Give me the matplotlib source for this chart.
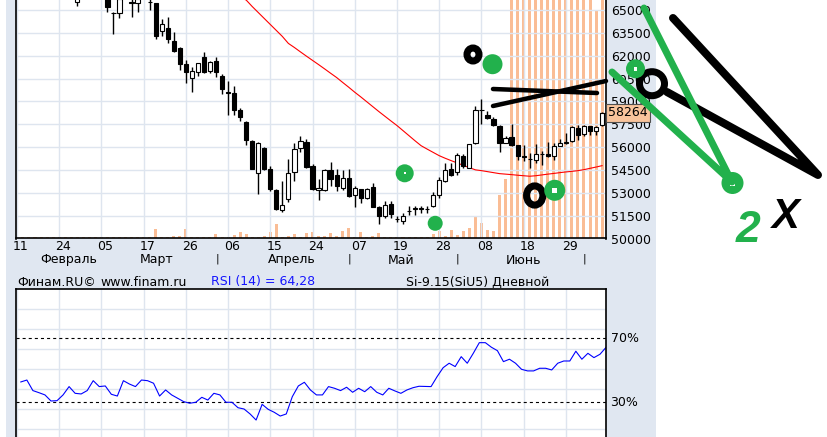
import numpy as np
import matplotlib
matplotlib.use('Agg')
import matplotlib.pyplot as plt
import matplotlib.transforms as mtrans
from matplotlib.patches import Rectangle, Ellipse

plt.rcParams['font.family'] = ['DejaVu Sans']
plt.rcParams['lines.scale_dashes'] = False

# Si-9.15 daily candles, index 0 = 11 Feb 2015 (nan = above the visible range)
nan = np.nan
opens = [nan]*10 + [
    65543, nan, nan, nan, nan, 65900, 64830, 64783, nan, 65500,
    65478, nan, 65550, 65438, 63644, 63801, 62989, 62491, 61443, 60565,
    60958, 61901, 61024, 61659, 60677, 59600, 59583, 58450, 57644, 56419,
    54303, 55941, 54585, 53210, 51854, 52600, 54343, 55941, 56334, 54782,
    53164, 53164, 54520, 54192, 53321, 53976, 52836, 53255, 52666, 53386,
    52076, 51461, 52293, 51310, 51133, 51780, 51960, 51960, 51940, 52116,
    52882, 53753, 54565, 54343, 55391, 54631, 56268, 58460, 58122, 57840,
    57402, 56268, 56635, 56111, 55400, 55250, 55175, 55560, 55548, 55391,
    56046, 56300, 56373, 57251, 56858, 57356, 57028, 57467]
highs = [nan]*10 + [
    66100, nan, nan, nan, nan, 66000, 64850, 65800, nan, 65700,
    65800, nan, 65700, 65478, 64390, 64561, 63578, 62556, 61725, 61286,
    61547, 62268, 61659, 61941, 60808, 60349, 60022, 58561, 57683, 56440,
    56308, 55980, 54782, 53275, 53799, 55220, 56268, 56701, 56530, 54893,
    53930, 54540, 55024, 54565, 54520, 54565, 53426, 53270, 53321, 53648,
    52162, 52489, 52443, 51461, 51683, 52116, 52162, 52116, 52116, 53059,
    54015, 54958, 54958, 55613, 55568, 56220, 58666, 59170, 58338, 57971,
    57420, 56747, 57513, 56130, 56111, 55613, 56223, 55718, 56308, 56268,
    56530, 56923, 57356, 57467, 57420, 57400, 57356, 58290]
lows = [nan]*10 + [
    65281, nan, nan, nan, nan, 64888, 63408, 64495, nan, 64561,
    64888, nan, 65000, 63100, 63316, 62818, 62268, 61070, 60198, 59648,
    60677, 60893, 60893, 60631, 59478, 58122, 58122, 57683, 56157, 54560,
    52928, 54520, 53098, 51900, 51723, 52378, 53799, 55653, 54650, 53164,
    52555, 53098, 53472, 53098, 53210, 52750, 52076, 52338, 52600, 52060,
    50983, 51356, 51356, 51068, 50983, 51572, 51572, 51683, 51683, 52076,
    52666, 53688, 54127, 54192, 54631, 54610, 56223, 57513, 57860, 57402,
    55679, 56250, 56100, 55175, 55109, 54631, 54958, 54847, 55380, 55175,
    56040, 56203, 56360, 56485, 56747, 56812, 56812, 57402]
closes = [nan]*10 + [
    65900, nan, nan, nan, nan, 65216, 64820, 65700, nan, 65460,
    65700, nan, 65540, 63316, 64083, 63100, 62314, 61443, 60958, 61004,
    61508, 60958, 61594, 60958, 59805, 59570, 58404, 57971, 56439, 54585,
    56268, 54585, 53275, 51965, 52227, 54303, 55875, 56373, 54670, 53275,
    53321, 54520, 53910, 53426, 53976, 52771, 53321, 52666, 53275, 52076,
    51461, 52181, 51618, 51280, 51507, 51800, 51970, 51970, 51950, 52882,
    53865, 54474, 54192, 55502, 54736, 56203, 58450, 58440, 57906, 57467,
    56268, 56596, 56111, 55391, 55380, 55230, 55568, 55570, 55391, 56046,
    56268, 56320, 57290, 56812, 57402, 57074, 57290, 58264]

# volume, contracts
volume = [1000]*23 + [
    9300, 1000, 1000, 2300, 2300, 9300, 1000, 1000, 1000, 1000,
    4300, 1000, 1000, 3300, 6300, 4300, 1000, 1000, 2300, 6300,
    14700, 1700, 2300, 4300, 1000, 5300, 6300, 2300, 2300, 5300,
    2300, 7300, 10300, 1000, 6300, 1000, 2300, 5300, 1000, 1000,
    1000, 1000, 1000, 1000, 1000, 1000, 4300, 7300, 2300, 8300,
    3300, 7300, 10300, 21300, 15300, 8300, 7700, 43300, 60000, 500000,
    500000, 500000, 500000, 500000, 500000, 500000, 500000, 500000, 500000, 500000,
    500000, 500000, 500000, 228000, 500000]

# moving average (red), from index 37
ma_start = 37
ma = [65818, 65655, 65229, 64836, 64443, 64050, 63657, 63264, 62805, 62537,
      62249, 61967, 61692, 61417, 61135, 60847, 60565, 60244, 59930, 59602,
      59295, 58974, 58653, 58332, 58024, 57716, 57415, 57081, 56747, 56412,
      56092, 55869, 55653, 55437, 55266, 55109, 54958, 54801, 54651, 54506,
      54454, 54389, 54323, 54258, 54225, 54192, 54153, 54120, 54087, 54120,
      54172, 54225, 54271, 54323, 54369, 54408, 54454, 54520, 54605, 54690,
      54782]

rsi = [42.7, 43.9, 37.3, 36.0, 34.6, 30.8, 31.0, 34.6, 39.8, 35.6,
       35.2, 37.3, 43.5, 39.8, 40.2, 35.0, 33.9, 43.5, 41.4, 39.8,
       43.9, 43.5, 41.9, 33.9, 37.7, 34.6, 32.5, 30.4, 29.4, 30.0,
       33.1, 31.4, 35.6, 34.6, 30.0, 30.0, 26.6, 25.8, 22.7, 18.9,
       28.7, 25.6, 23.75, 21.4, 22.7, 33.5, 40.2, 42.5, 37.7, 34.6,
       34.6, 39.8, 38.75, 37.3, 39.4, 36.25, 38.75, 36.6, 39.8, 36.25,
       34.6, 38.75, 37.1, 35.6, 37.7, 39.1, 40.0, 39.9, 39.8, 46.0,
       51.6, 54.4, 52.3, 58.5, 54.4, 60.6, 67.25, 67.25, 64.4, 62.25,
       55.4, 56.9, 54.4, 50.6, 49.6, 49.6, 51.25, 51.25, 50.2, 54.4,
       55.8, 55.8, 61.9, 56.9, 60.6, 57.9, 60.0, 64.28]

day_labels = ['11', '24', '05', '17', '26', '06', '15', '24', '07', '19', '28', '08', '18', '29']
tick_idx = np.arange(0, 98, 7)
month_names = ['Февраль', 'Март', 'Апрель', 'Май', 'Июнь']
month_pos = [8.6, 23.1, 45.6, 63.7, 83.9]
month_sep = [33.2, 55.1, 73.1, 94.0]

# hand-drawn marks on the screenshot (image pixels)
black_strokes = [([493, 597], [89, 93], 4.5), ([493, 606], [106, 81], 4.5),
                 ([673, 818, 667], [18, 175, 92], 8)]
green_strokes = [([612, 732, 644], [72, 182, 8], 7)]
black_rings = [(473, 54.5, 12, 13), (534.7, 195.5, 16.3, 19.2), (652, 83.7, 25, 24)]
green_dots = [(492.5, 64.2, 20, 0), (404.7, 173.3, 18, 2), (435.2, 223.3, 15, 0),
              (554.7, 190.3, 21, 5), (635.5, 68.8, 19, 3.5), (732.5, 183, 22, 5)]

W, H = 827, 437
panel = '#e0e7f1'
gridc = '#dee5ef'
green = '#22b14c'
px = 0.72

def rect(x0, y0, x1, y1):
    return [x0 / W, 1 - y1 / H, (x1 - x0) / W, (y1 - y0) / H]

fig = plt.figure(figsize=(8.27, 4.37), dpi=100)

ov = fig.add_axes([0, 0, 1, 1], zorder=0)
ov.set_xlim(0, W)
ov.set_ylim(H, 0)
ov.axis('off')
ov.add_patch(Rectangle((6, 0), 650, H, color=panel, lw=0))

xlim = (-0.15, 97.6)
n = len(closes)
x = np.arange(n)

# volume behind the price axes (white plot background lives here)
ax_v = fig.add_axes(rect(16, 0, 605.7, 238.5), zorder=1)
ax_v.set_facecolor('white')
ax_v.bar(x, volume, width=0.5, color='#fabd95', lw=0)
ax_v.set_xlim(*xlim)
ax_v.set_ylim(0, 238500)
ax_v.set_xticks([])
ax_v.set_yticks([])
for s in ax_v.spines.values():
    s.set_visible(False)

ax = fig.add_axes(rect(16, 0, 605.7, 238.5), zorder=2)
ax.patch.set_visible(False)
ax.set_xlim(*xlim)
ax.set_ylim(50000, 65655)
ax.set_yticks(np.arange(50000, 65001, 1500))
ax.set_xticks(tick_idx)
ax.set_xticklabels([])
ax.grid(True, color=gridc, lw=1)
ax.yaxis.tick_right()
ax.tick_params(axis='both', length=0, labelsize=9, pad=3.6)
ax.spines['top'].set_visible(False)
for s in ['left', 'right', 'bottom']:
    ax.spines[s].set_linewidth(1.2)

ax.plot(np.arange(ma_start, ma_start + len(ma)), ma, color='red', lw=0.8, zorder=2)

o = np.array(opens, float)
c = np.array(closes, float)
hi = np.array(highs, float)
lo = np.array(lows, float)
ok = ~np.isnan(c)
ax.vlines(x[ok], lo[ok], hi[ok], color='black', lw=1, zorder=3)
up = ok & (c >= o)
dn = ok & (c < o)
ax.bar(x[up], np.maximum(c[up] - o[up], 10), bottom=o[up], width=0.7,
       color='white', edgecolor='black', lw=0.8, zorder=4)
ax.bar(x[dn], np.maximum(o[dn] - c[dn], 10), bottom=c[dn], width=0.7,
       color='black', edgecolor='black', lw=0.8, zorder=4)

# last price box, drawn over the price scale like in the terminal
bl = mtrans.blended_transform_factory(ov.transData, ax.transData)
ax.plot([600, 606], [c[-1], c[-1]], transform=bl, color='black', lw=0.8, clip_on=False)
ax.text(608.3, c[-1], f'{c[-1]:.0f}', transform=bl, ha='left', va='center', fontsize=9,
        bbox=dict(boxstyle='square,pad=0.2', fc='#f9c49c', ec='#505050', lw=0.8),
        clip_on=False, zorder=6)

# date labels
bx = mtrans.blended_transform_factory(ax.transData, ov.transData)
for t, lab in zip(tick_idx, day_labels):
    ov.text(t + 0.65, 246, lab, transform=bx, ha='center', va='center', fontsize=9)
for p, lab in zip(month_pos, month_names):
    ov.text(p, 260, lab, transform=bx, ha='center', va='center', fontsize=9)
for p in month_sep:
    ov.text(p, 259, '|', transform=bx, ha='center', va='center', fontsize=8)

# info row
ov.text(17, 282, 'Финам.RU©', fontsize=9, va='center')
ov.text(100, 282, 'www.finam.ru', fontsize=9, va='center')
ov.text(211, 282, 'RSI (14) = 64,28', fontsize=9, va='center', color='#1515ff')
ov.text(406, 282, 'Si-9.15(SiU5) Дневной', fontsize=9, va='center')

# RSI panel
ax_r = fig.add_axes(rect(16, 289.3, 605.7, 437), zorder=2)
ax_r.set_facecolor('white')
ax_r.set_xlim(*xlim)
ax_r.set_ylim(8.3, 100.6)
ax_r.set_yticks(np.arange(100.6 - 12.5, 8.3, -12.5))
ax_r.set_xticks(tick_idx)
ax_r.set_xticklabels([])
ax_r.set_yticklabels([])
ax_r.tick_params(length=0)
ax_r.grid(True, color=gridc, lw=1)
ax_r.spines['bottom'].set_visible(False)
for s in ['left', 'right', 'top']:
    ax_r.spines[s].set_linewidth(1.2)
for lvl in (70, 30):
    ax_r.axhline(lvl, color='black', lw=0.8, linestyle=(0, (2.2, 2.2)))
ax_r.plot(np.arange(len(rsi)) + 0.65, rsi, color='#0000ff', lw=0.8)
br = mtrans.blended_transform_factory(ov.transData, ax_r.transData)
for lvl in (70, 30):
    ov.text(610.5, lvl, f'{lvl}%', transform=br, fontsize=9, va='center')

# timestamp box
ov.add_patch(Rectangle((356, 11.7), 74, 41.6, fc='#d4d0c8', lw=0, zorder=3))
ov.plot([356, 430], [12.8, 12.8], color='#8a8a8a', lw=2 * px, zorder=4)
ov.plot([356, 430], [50.2, 50.2], color='#f0eee9', lw=1 * px, zorder=4)
ov.plot([356, 430], [52.5, 52.5], color='#a6a6a6', lw=1.5 * px, zorder=4)
ov.text(393, 24, '0:39', ha='center', va='center', fontsize=7.3, zorder=5)
ov.text(393, 40.5, '07.07.2015', ha='center', va='center', fontsize=7.3, zorder=5)

# hand-drawn layer
an = fig.add_axes([0, 0, 1, 1], zorder=10)
an.set_xlim(0, W)
an.set_ylim(H, 0)
an.axis('off')
for xs, ys, w in black_strokes:
    an.plot(xs, ys, color='black', lw=w * px, solid_capstyle='round', solid_joinstyle='round')
for xs, ys, w in green_strokes:
    an.plot(xs, ys, color=green, lw=w * px, solid_capstyle='round', solid_joinstyle='round')
for cx, cy, w, h in black_rings:
    an.add_patch(Ellipse((cx, cy), w, h, fill=False, ec='black', lw=7 * px))
for cx, cy, d, hole in green_dots:
    an.add_patch(Ellipse((cx, cy), d, d, fc=green, lw=0))
    if hole:
        an.add_patch(Rectangle((cx - hole / 2, cy - hole / 2), hole, hole, fc='white', lw=0))
an.text(748.3, 230, '2', color=green, fontsize=32, fontweight='bold', fontstyle='italic',
        family='Liberation Sans', ha='center', va='center')
an.text(785.8, 217, 'X', color='black', fontsize=30, fontweight='bold', fontstyle='italic',
        family='Liberation Sans', ha='center', va='center')

fig.savefig('out.png', dpi=100)
